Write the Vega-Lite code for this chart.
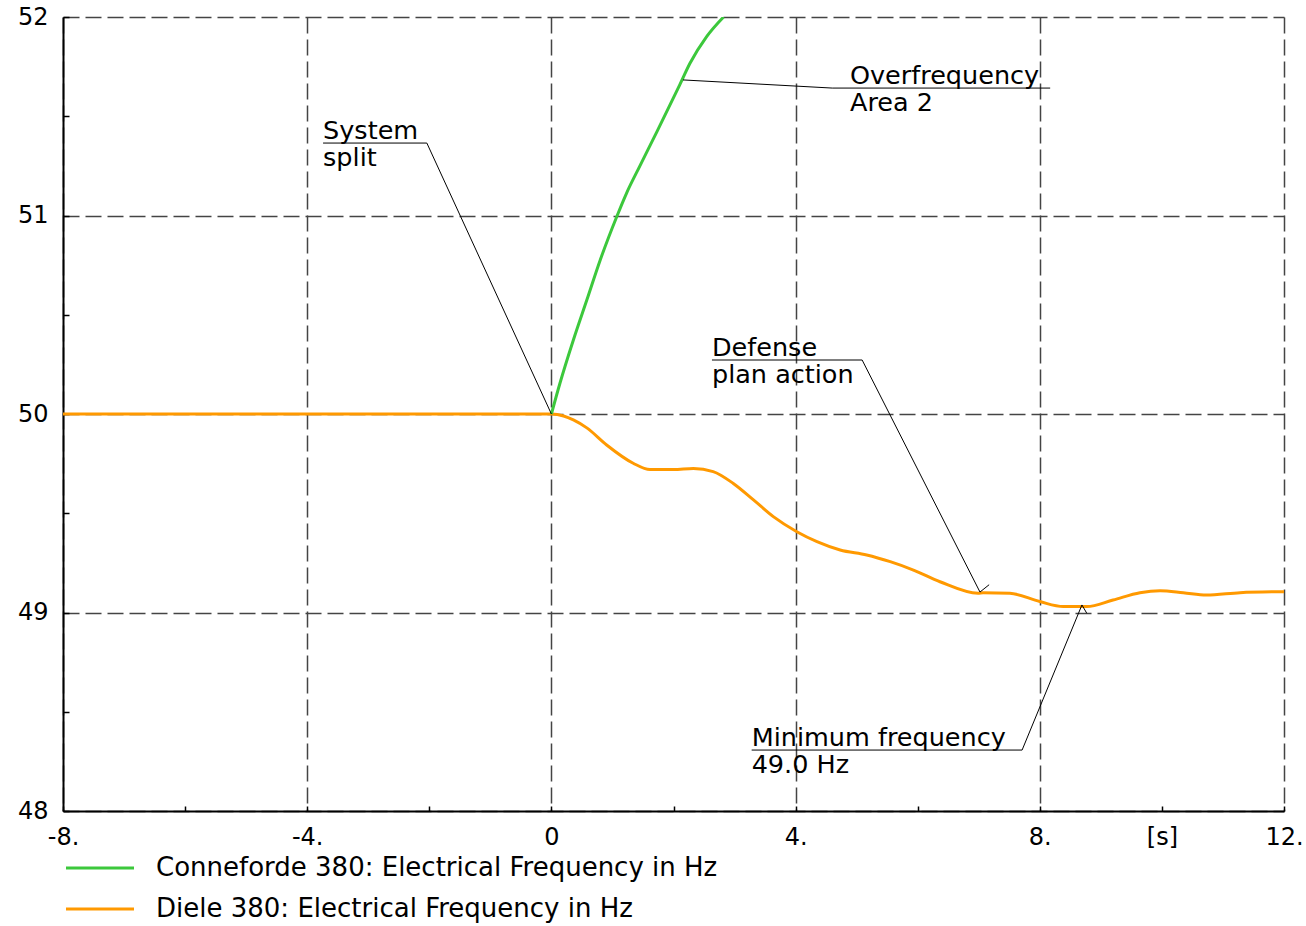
{
  "$schema": "https://vega.github.io/schema/vega-lite/v6.json",
  "width": 1221,
  "height": 794,
  "autosize": {"type": "none"},
  "padding": {"left": 63, "top": 17, "right": 22, "bottom": 115},
  "background": "white",
  "config": {
    "view": {"stroke": null},
    "font": "DejaVu Sans"
  },
  "datasets": {
    "series": [
      {"series": "Diele 380: Electrical Frequency in Hz", "x": -8, "y": 50},
      {"series": "Diele 380: Electrical Frequency in Hz", "x": 0, "y": 50},
      {"series": "Diele 380: Electrical Frequency in Hz", "x": 0.2, "y": 49.99},
      {"series": "Diele 380: Electrical Frequency in Hz", "x": 0.36, "y": 49.97},
      {"series": "Diele 380: Electrical Frequency in Hz", "x": 0.58, "y": 49.93},
      {"series": "Diele 380: Electrical Frequency in Hz", "x": 0.905, "y": 49.844},
      {"series": "Diele 380: Electrical Frequency in Hz", "x": 1.34, "y": 49.752},
      {"series": "Diele 380: Electrical Frequency in Hz", "x": 1.615, "y": 49.72},
      {"series": "Diele 380: Electrical Frequency in Hz", "x": 2.0, "y": 49.72},
      {"series": "Diele 380: Electrical Frequency in Hz", "x": 2.325, "y": 49.726},
      {"series": "Diele 380: Electrical Frequency in Hz", "x": 2.65, "y": 49.71},
      {"series": "Diele 380: Electrical Frequency in Hz", "x": 2.98, "y": 49.65},
      {"series": "Diele 380: Electrical Frequency in Hz", "x": 3.31, "y": 49.567},
      {"series": "Diele 380: Electrical Frequency in Hz", "x": 3.635, "y": 49.483},
      {"series": "Diele 380: Electrical Frequency in Hz", "x": 4.02, "y": 49.407},
      {"series": "Diele 380: Electrical Frequency in Hz", "x": 4.35, "y": 49.357},
      {"series": "Diele 380: Electrical Frequency in Hz", "x": 4.73, "y": 49.315},
      {"series": "Diele 380: Electrical Frequency in Hz", "x": 5.165, "y": 49.29},
      {"series": "Diele 380: Electrical Frequency in Hz", "x": 5.55, "y": 49.256},
      {"series": "Diele 380: Electrical Frequency in Hz", "x": 5.93, "y": 49.214},
      {"series": "Diele 380: Electrical Frequency in Hz", "x": 6.365, "y": 49.155},
      {"series": "Diele 380: Electrical Frequency in Hz", "x": 6.99, "y": 49.097},
      {"series": "Diele 380: Electrical Frequency in Hz", "x": 7.07, "y": 49.1},
      {"series": "Diele 380: Electrical Frequency in Hz", "x": 7.51, "y": 49.097},
      {"series": "Diele 380: Electrical Frequency in Hz", "x": 8.0, "y": 49.055},
      {"series": "Diele 380: Electrical Frequency in Hz", "x": 8.385, "y": 49.03},
      {"series": "Diele 380: Electrical Frequency in Hz", "x": 8.77, "y": 49.03},
      {"series": "Diele 380: Electrical Frequency in Hz", "x": 9.2, "y": 49.063},
      {"series": "Diele 380: Electrical Frequency in Hz", "x": 9.64, "y": 49.1},
      {"series": "Diele 380: Electrical Frequency in Hz", "x": 9.97, "y": 49.11},
      {"series": "Diele 380: Electrical Frequency in Hz", "x": 10.35, "y": 49.1},
      {"series": "Diele 380: Electrical Frequency in Hz", "x": 10.73, "y": 49.088},
      {"series": "Diele 380: Electrical Frequency in Hz", "x": 11.28, "y": 49.1},
      {"series": "Diele 380: Electrical Frequency in Hz", "x": 12, "y": 49.105},
      {"series": "Conneforde 380: Electrical Frequency in Hz", "x": 0, "y": 50.0},
      {"series": "Conneforde 380: Electrical Frequency in Hz", "x": 0.14, "y": 50.155},
      {"series": "Conneforde 380: Electrical Frequency in Hz", "x": 0.36, "y": 50.373},
      {"series": "Conneforde 380: Electrical Frequency in Hz", "x": 0.58, "y": 50.574},
      {"series": "Conneforde 380: Electrical Frequency in Hz", "x": 0.8, "y": 50.776},
      {"series": "Conneforde 380: Electrical Frequency in Hz", "x": 1.07, "y": 50.994},
      {"series": "Conneforde 380: Electrical Frequency in Hz", "x": 1.23, "y": 51.112},
      {"series": "Conneforde 380: Electrical Frequency in Hz", "x": 1.45, "y": 51.25},
      {"series": "Conneforde 380: Electrical Frequency in Hz", "x": 1.725, "y": 51.42},
      {"series": "Conneforde 380: Electrical Frequency in Hz", "x": 2.1, "y": 51.657},
      {"series": "Conneforde 380: Electrical Frequency in Hz", "x": 2.27, "y": 51.767},
      {"series": "Conneforde 380: Electrical Frequency in Hz", "x": 2.54, "y": 51.9},
      {"series": "Conneforde 380: Electrical Frequency in Hz", "x": 2.82, "y": 52.0}
    ],
    "leaders": [
      {"id": "split", "k": 1, "x": -3.74, "y": 51.365},
      {"id": "split", "k": 2, "x": -2.04, "y": 51.365},
      {"id": "split", "k": 3, "x": 0, "y": 50.0},
      {"id": "over", "k": 1, "x": 2.156, "y": 51.683},
      {"id": "over", "k": 2, "x": 4.6, "y": 51.642},
      {"id": "over", "k": 3, "x": 8.17, "y": 51.642},
      {"id": "defense", "k": 1, "x": 2.63, "y": 50.272},
      {"id": "defense", "k": 2, "x": 5.09, "y": 50.272},
      {"id": "defense", "k": 3, "x": 7.02, "y": 49.103},
      {"id": "defense", "k": 4, "x": 7.17, "y": 49.14},
      {"id": "minimum", "k": 1, "x": 3.28, "y": 48.307},
      {"id": "minimum", "k": 2, "x": 7.71, "y": 48.307},
      {"id": "minimum", "k": 3, "x": 8.69, "y": 49.038},
      {"id": "minimum", "k": 4, "x": 8.77, "y": 48.996}
    ],
    "notes": [
      {"text": "System\nsplit", "x": -3.74, "y": 51.365},
      {"text": "Overfrequency\nArea 2", "x": 4.89, "y": 51.642},
      {"text": "Defense\nplan action", "x": 2.63, "y": 50.272},
      {"text": "Minimum frequency\n49.0 Hz", "x": 3.28, "y": 48.307}
    ]
  },
  "encoding": {
    "x": {
      "field": "x",
      "type": "quantitative",
      "scale": {"domain": [-8, 12], "nice": false, "zero": false},
      "axis": {
        "title": null,
        "values": [-8, -6, -4, -2, 0, 2, 4, 6, 8, 10, 12],
        "labelExpr": "datum.value === 10 ? '[s]' : (datum.value % 4 === 0 ? (datum.value === 0 ? '0' : datum.value + '.') : '')",
        "grid": true,
        "gridDash": [16, 6],
        "gridColor": "#444444",
        "gridWidth": 1.5,
        "gridOpacity": {"condition": {"test": "datum.value % 4 === 0", "value": 1}, "value": 0},
        "tickSize": -5,
        "tickColor": "#000000",
        "tickWidth": 1.5,
        "domainColor": "#000000",
        "domainWidth": 2,
        "labelFont": "DejaVu Sans",
        "labelFontSize": 24,
        "labelColor": "#000000",
        "labelPadding": 19,
        "labelFlush": false,
        "labelOverlap": false
      }
    },
    "y": {
      "field": "y",
      "type": "quantitative",
      "scale": {"domain": [48, 52], "nice": false, "zero": false},
      "axis": {
        "title": null,
        "values": [48, 48.5, 49, 49.5, 50, 50.5, 51, 51.5, 52],
        "labelExpr": "datum.value % 1 === 0 ? format(datum.value, 'd') : ''",
        "grid": true,
        "gridDash": [16, 6],
        "gridColor": "#444444",
        "gridWidth": 1.5,
        "gridOpacity": {"condition": {"test": "datum.value % 1 === 0", "value": 1}, "value": 0},
        "tickSize": -6,
        "tickColor": "#000000",
        "tickWidth": 1.5,
        "domainColor": "#000000",
        "domainWidth": 2,
        "labelFont": "DejaVu Sans",
        "labelFontSize": 24,
        "labelColor": "#000000",
        "labelPadding": 21,
        "labelOverlap": false
      }
    }
  },
  "layer": [
    {
      "data": {"name": "series"},
      "mark": {"type": "line", "strokeWidth": 3, "interpolate": "monotone", "clip": true},
      "encoding": {
        "color": {
          "field": "series",
          "type": "nominal",
          "scale": {
            "domain": ["Conneforde 380: Electrical Frequency in Hz", "Diele 380: Electrical Frequency in Hz"],
            "range": ["#3cc83c", "#ff9900"]
          },
          "legend": {
            "title": null,
            "orient": "none",
            "legendX": 24,
            "legendY": 838,
            "padding": 0,
            "symbolType": "M-4,0H4",
            "symbolSize": 289,
            "symbolStrokeWidth": 3,
            "labelFont": "DejaVu Sans",
            "labelFontSize": 26,
            "labelColor": "#000000",
            "labelOffset": 43,
            "labelLimit": 0,
            "rowPadding": 15
          }
        }
      }
    },
    {
      "data": {"name": "leaders"},
      "mark": {"type": "line", "color": "#000000", "strokeWidth": 1},
      "encoding": {
        "detail": {"field": "id", "type": "nominal"},
        "order": {"field": "k", "type": "quantitative"}
      }
    },
    {
      "data": {"name": "notes"},
      "mark": {
        "type": "text",
        "align": "left",
        "baseline": "alphabetic",
        "dy": -4,
        "font": "DejaVu Sans",
        "fontSize": 25.5,
        "color": "#000000",
        "lineBreak": "\n",
        "lineHeight": 27
      },
      "encoding": {
        "text": {"field": "text", "type": "nominal"}
      }
    }
  ]
}
